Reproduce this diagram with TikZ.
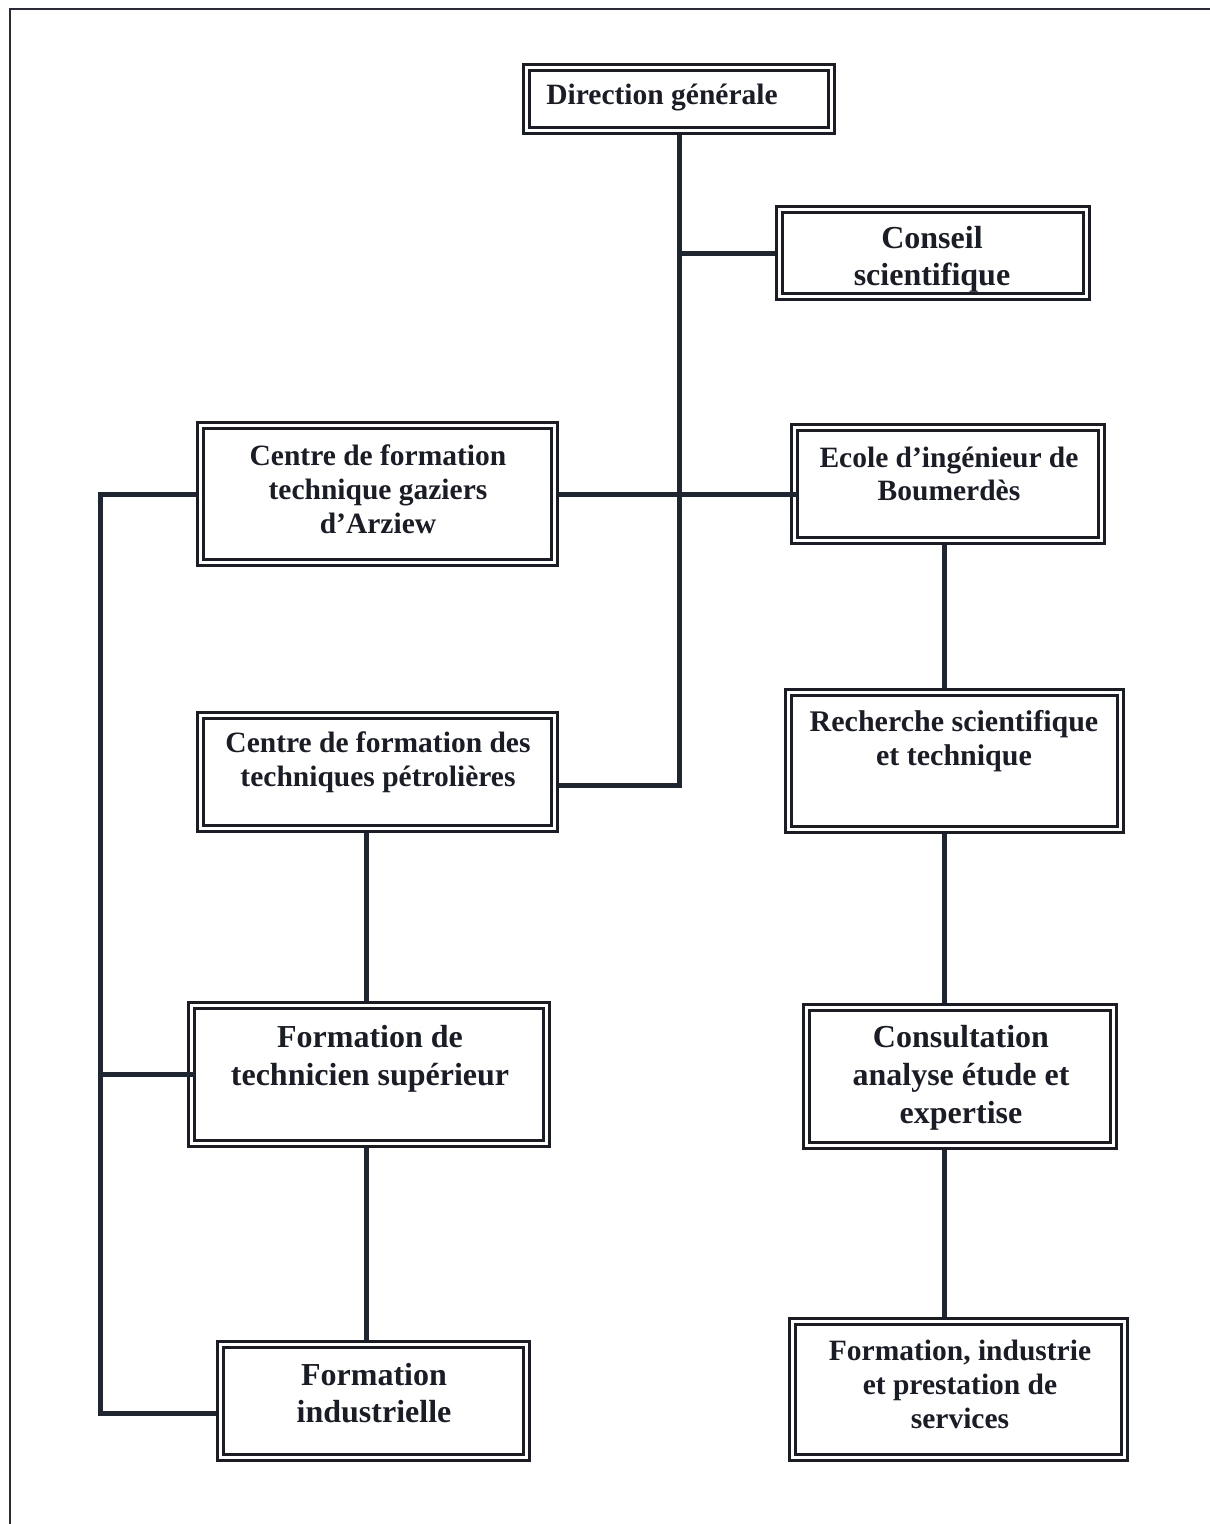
\documentclass[tikz,border=0pt]{standalone}
\usepackage{fontspec}
\setmainfont{Liberation Serif}
\usetikzlibrary{calc}
\definecolor{ink}{HTML}{1A1D26}
\definecolor{wire}{HTML}{1F2631}
\definecolor{frame}{HTML}{2A2C3C}
\tikzset{
  orgbox/.style={draw=ink, line width=3pt, double=white, double distance=3pt,
    outer sep=4.5pt, inner sep=0pt, rectangle},
  big/.style={font=\bfseries\fontsize{32}{38}\selectfont},
  small/.style={font=\bfseries\fontsize{29.5}{34}\selectfont},
  lbl/.style={anchor=north, inner sep=0pt, align=center, text=ink},
  link/.style={draw=wire, line width=5pt, line join=miter}
}
\begin{document}
\begin{tikzpicture}[x=1pt, y=-1pt]
\useasboundingbox (0,0) rectangle (1210,1524);
% page frame
\draw[frame, line width=2pt] (1210,9) -- (10,9) -- (10,1524);

% boxes (size given by outer edge minus the double border)
\node[orgbox, minimum width=305pt, minimum height=63pt]  (dg) at (679,99) {};
\node[orgbox, minimum width=307pt, minimum height=87pt]  (cs) at (933,253) {};
\node[orgbox, minimum width=354pt, minimum height=137pt] (cg) at (377.5,494) {};
\node[orgbox, minimum width=307pt, minimum height=113pt] (ei) at (948,484) {};
\node[orgbox, minimum width=354pt, minimum height=113pt] (cp) at (377.5,772) {};
\node[orgbox, minimum width=332pt, minimum height=137pt] (rs) at (954.5,761) {};
\node[orgbox, minimum width=355pt, minimum height=138pt] (ft) at (369,1074.5) {};
\node[orgbox, minimum width=307pt, minimum height=138pt] (ca) at (960,1076.5) {};
\node[orgbox, minimum width=306pt, minimum height=113pt] (fi) at (373.5,1401) {};
\node[orgbox, minimum width=332pt, minimum height=136pt] (fp) at (958.5,1389.5) {};

% box texts
\node[lbl, small] (dgt) at (662,84)  {Direction générale};
\node[lbl, font=\bfseries\fontsize{32}{37}\selectfont] (cst) at (932,226) {Conseil\\scientifique};
\node[lbl, small] (cgt) at (378,445) {Centre de formation\\technique gaziers\\d’Arziew};
\node[lbl, font=\bfseries\fontsize{29.5}{33}\selectfont] (eit) at (949,447) {Ecole d’ingénieur de\\Boumerdès};
\node[lbl, small] (cpt) at (378,732) {Centre de formation des\\techniques pétrolières};
\node[lbl, font=\bfseries\fontsize{30}{34}\selectfont] (rst) at (954,710) {Recherche scientifique\\et technique};
\node[lbl, big] (ftt) at (370,1025) {Formation de\\technicien supérieur};
\node[lbl, big] (cat) at (961,1025) {Consultation\\analyse étude et\\expertise};
\node[lbl, font=\bfseries\fontsize{32}{37}\selectfont] (fit) at (374,1363) {Formation\\industrielle};
\node[lbl, small] (fpt) at (960,1340) {Formation, industrie\\et prestation de\\services};

% junction points of the connectors
\coordinate (jp) at (679,785);
\coordinate (rx) at (944,0);
\coordinate (lx) at (366,0);
\coordinate (bl) at (100,1413);

% main trunk
\draw[link] (dg.south) -- (jp) -- (jp -| cp.east);
\draw[link] (cs.west) -- (cs.west -| dg.south);
\draw[link] (cg.east) -- ([xshift=7pt]cg.east -| ei.west);

% right column
\draw[link] (ei.south -| rx) -- (rs.north -| rx);
\draw[link] (rs.south -| rx) -- (ca.north -| rx);
\draw[link] (ca.south -| rx) -- (fp.north -| rx);

% left column
\draw[link] (cp.south -| lx) -- (ft.north -| lx);
\draw[link] (ft.south -| lx) -- (fi.north -| lx);

% left bus
\draw[link] (cg.west) -- (cg.west -| bl) -- (bl) -- (bl -| fi.west);
\draw[link] ([xshift=8pt]ft.west) -- (ft.west -| bl);
\end{tikzpicture}
\end{document}
